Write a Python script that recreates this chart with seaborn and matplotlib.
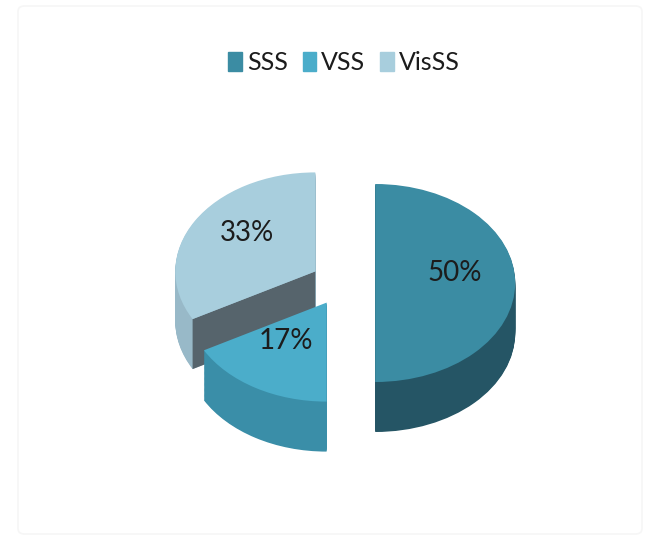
import numpy as np
import matplotlib
matplotlib.use('Agg')
import matplotlib.pyplot as plt
import matplotlib.patches as mpatches
import seaborn as sns

sns.set_theme(style='white')
plt.rcParams['font.family'] = ['Lato', 'DejaVu Sans']

# ── data ───────────────────────────────────────────
labels = ['SSS', 'VSS', 'VisSS']
shares = [50, 17, 33]
top_colors = ['#3b8ca3', '#4badca', '#a8cedd']
side_colors = ['#255565', '#3a8ea8', '#98b9c8']
cut_color = '#56646c'

# ── geometry (pixels of the 652x544 canvas) ────────
W, H = 652, 544
cx, cy = 343, 283        # pie centre
rx, ry = 140, 99         # ellipse radii
depth_px = 50
explode = 0.23
n_layers = 60
# back-to-front draw order per slice: VisSS, SSS, VSS
slice_z = {'VisSS': 1, 'SSS': 3, 'VSS': 5}

fig = plt.figure(figsize=(W / 100, H / 100), dpi=100)
ax = fig.add_axes([0, 0, 1, 1])

depth = depth_px / ry
offsets = np.linspace(-depth, 0, n_layers)

# side walls: stacked copies of the pie, shifted down
for k, off in enumerate(offsets[:-1]):
    wedges, _ = ax.pie(shares, colors=side_colors, startangle=90, counterclock=False,
                       explode=[explode] * 3, center=(0, off),
                       wedgeprops=dict(linewidth=0))
    for w, lab in zip(wedges, labels):
        w.set_zorder(slice_z[lab] + k * 0.001)

# top faces with percentage labels
wedges, texts, autotexts = ax.pie(shares, colors=top_colors, startangle=90,
                                  counterclock=False, explode=[explode] * 3,
                                  autopct='%1.0f%%', pctdistance=0.57,
                                  textprops=dict(fontsize=20, color='#1c1c1c'),
                                  wedgeprops=dict(linewidth=0))
for w, lab, t in zip(wedges, labels, autotexts):
    w.set_zorder(slice_z[lab] + 0.9)
    t.set_zorder(10)
    # Excel puts labels a bit higher on the tilted top face
    x, y = t.get_position()
    t.set_position((x, y + 0.1))

# dark cut face of VisSS (exposed where VSS is pulled away)
w = wedges[labels.index('VisSS')]
ang = np.deg2rad(w.theta2)
c0 = np.array(w.center)
rim = c0 + w.r * np.array([np.cos(ang), np.sin(ang)])
quad = [c0, rim, rim - [0, depth], c0 - [0, depth]]
ax.add_patch(mpatches.Polygon(quad, closed=True, facecolor=cut_color,
                              edgecolor='none', zorder=slice_z['VisSS'] + 0.5))

# legend
handles = [mpatches.Patch(color=c, label=l) for c, l in zip(top_colors, labels)]
leg = ax.legend(handles=handles, loc='center', bbox_to_anchor=(344 / W, 1 - 63 / H),
                ncol=3, frameon=False, fontsize=18, handlelength=0.55,
                handleheight=0.8, handletextpad=0.2, columnspacing=0.6,
                labelcolor='#1c1c1c')

# faint chart-area border
fig.patches.append(mpatches.FancyBboxPatch((18 / W, 10 / H), 624 / W, 528 / H,
                                           boxstyle='round,pad=0,rounding_size=0.01',
                                           transform=fig.transFigure,
                                           facecolor='none', edgecolor='#f6f6f6',
                                           linewidth=1.2))

# squash the circle into the tilted ellipse
ax.set_aspect('auto')
ax.set_xlim(-cx / rx, (W - cx) / rx)
ax.set_ylim(-(H - cy) / ry, cy / ry)
ax.axis('off')

fig.savefig('out.png', dpi=100, facecolor='white')
